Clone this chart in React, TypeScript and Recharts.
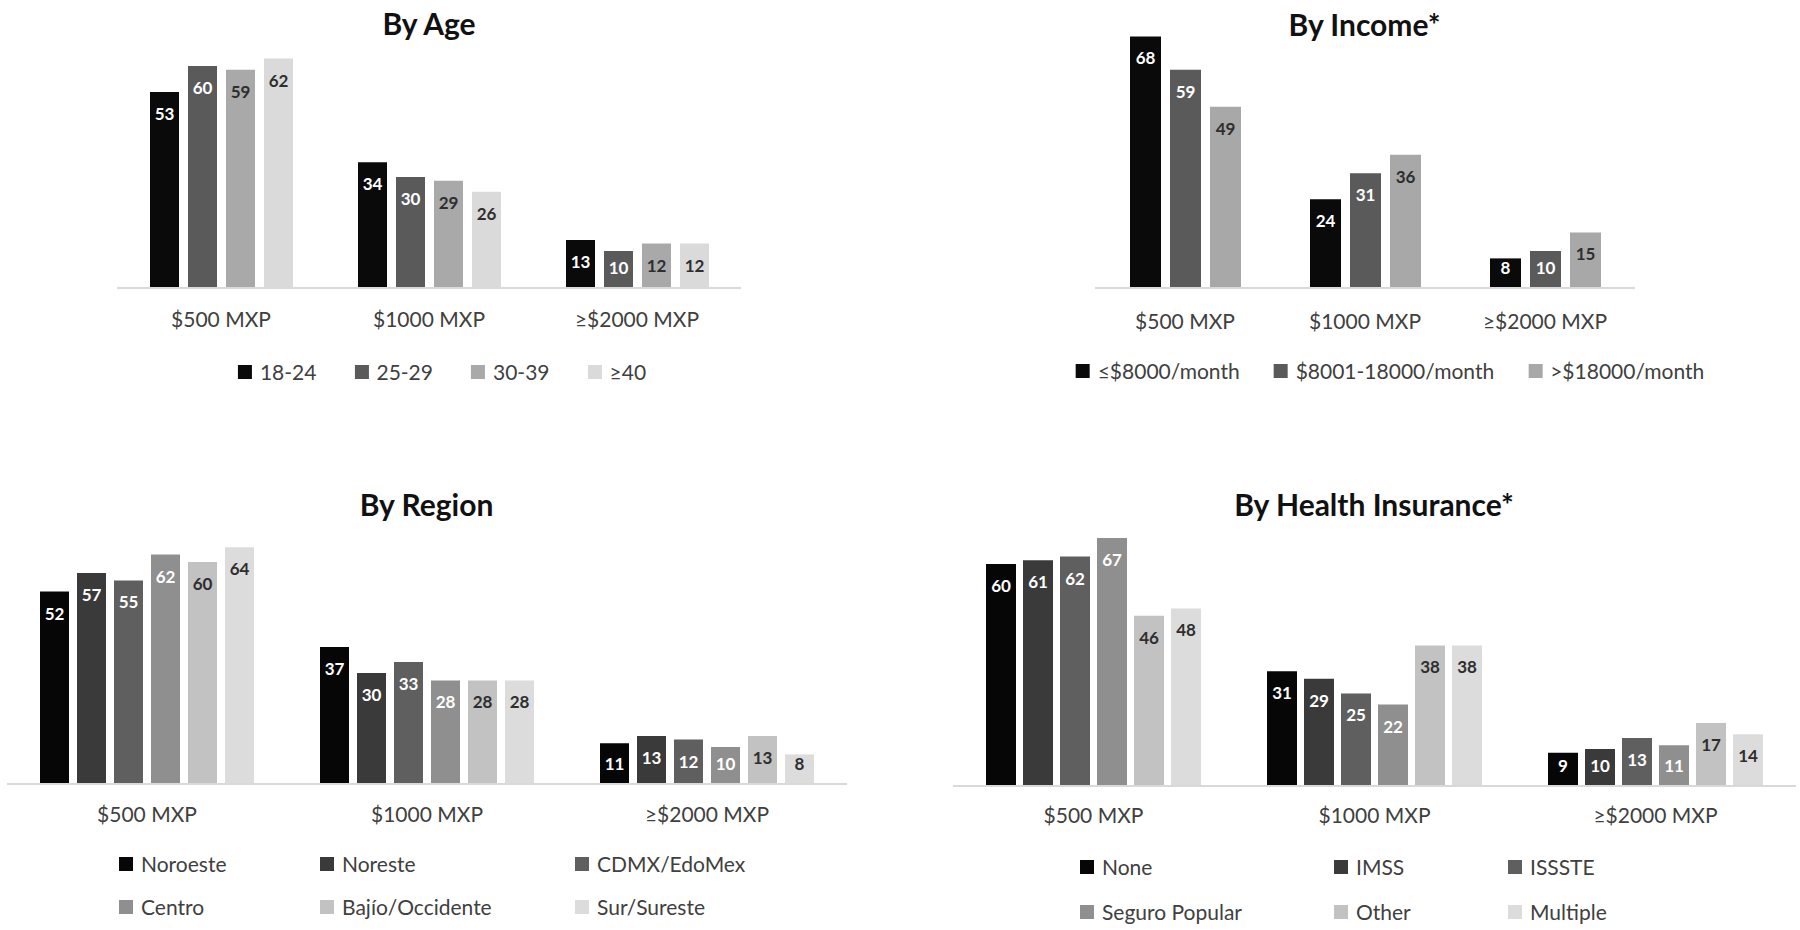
import React from 'react'
import { BarChart, Bar, XAxis, YAxis, LabelList } from 'recharts'

const FONT = 'Lato, "Open Sans", sans-serif'

// shared x categories
const categories = ['$500 MXP', '$1000 MXP', '≥$2000 MXP']

// By Age
const ageGroups = ['18-24', '25-29', '30-39', '≥40']
const ageValues = [
  [53, 34, 13],
  [60, 30, 10],
  [59, 29, 12],
  [62, 26, 12],
]

// By Income
const incomeGroups = ['≤$8000/month', '$8001-18000/month', '>$18000/month']
const incomeValues = [
  [68, 24, 8],
  [59, 31, 10],
  [49, 36, 15],
]

// By Region
const regionGroups = ['Noroeste', 'Noreste', 'CDMX/EdoMex', 'Centro', 'Bajío/Occidente', 'Sur/Sureste']
const regionValues = [
  [52, 37, 11],
  [57, 30, 13],
  [55, 33, 12],
  [62, 28, 10],
  [60, 28, 13],
  [64, 28, 8],
]

// By Health Insurance
const insuranceGroups = ['None', 'IMSS', 'ISSSTE', 'Seguro Popular', 'Other', 'Multiple']
const insuranceValues = [
  [60, 31, 9],
  [61, 29, 10],
  [62, 25, 13],
  [67, 22, 11],
  [46, 38, 17],
  [48, 38, 14],
]

const greys4 = ['#0a0a0a', '#5a5a5a', '#a9a9a9', '#dadada']
const greys3 = ['#0a0a0a', '#5a5a5a', '#a8a8a8']
const greys6 = ['#060606', '#3a3a3a', '#5f5f5f', '#8f8f8f', '#c2c2c2', '#dcdcdc']
const labelColor = (fill: string) => (parseInt(fill.slice(1, 3), 16) > 0x98 ? '#2e2e2e' : '#ffffff')

const PX_PER_UNIT = 3.7
const Y_MAX = 70

function buildRows(values: number[][]) {
  return categories.map((c, i) => {
    const row: Record<string, string | number> = { category: c }
    values.forEach((v, s) => {
      row['s' + s] = v[i]
    })
    return row
  })
}

const makeLabel = (color: string) => (props: any) => {
  const vb = props.viewBox ?? props
  const { x, y, width, height } = vb
  const cy = Math.min(y + 22, y + height - 20)
  return (
    <text
      x={x + width / 2}
      y={cy}
      dy="0.35em"
      textAnchor="middle"
      fill={color}
      fontSize={17}
      fontWeight={700}
      fontFamily={FONT}
    >
      {props.value}
    </text>
  )
}

interface PanelProps {
  title: string
  titleY: number
  groups: string[]
  values: number[][]
  colors: string[]
  plotLeft: number
  plotRight: number
  baseline: number
  barSize: number
  barGap: number
  tickMargin: number
}

function Panel(p: PanelProps) {
  const data = buildRows(p.values)
  const plotH = Y_MAX * PX_PER_UNIT
  const pad = 10
  const axisH = 60
  const width = p.plotRight - p.plotLeft + pad + 4
  const height = plotH + pad + axisH
  const center = (p.plotLeft + p.plotRight) / 2
  return (
    <>
      <div
        style={{
          position: 'absolute',
          left: center - 300,
          width: 600,
          top: p.titleY,
          textAlign: 'center',
          fontFamily: FONT,
          fontWeight: 700,
          fontSize: 30,
          lineHeight: '30px',
          color: '#111',
        }}
      >
        {p.title}
      </div>
      <div style={{ position: 'absolute', left: p.plotLeft - pad, top: p.baseline - plotH - pad }}>
        <BarChart
          width={width}
          height={height}
          data={data}
          margin={{ top: pad, right: 4, bottom: 0, left: pad }}
          barSize={p.barSize}
          barGap={p.barGap}
        >
          <XAxis
            dataKey="category"
            interval={0}
            height={axisH}
            tickLine={false}
            tickMargin={p.tickMargin}
            axisLine={{ stroke: '#d9d9d9', strokeWidth: 2 }}
            tick={{ fill: '#404040', fontSize: 21, fontFamily: FONT }}
          />
          <YAxis hide domain={[0, Y_MAX]} />
          {p.groups.map((g, s) => (
            <Bar key={g} dataKey={'s' + s} name={g} fill={p.colors[s]} isAnimationActive={false}>
              <LabelList dataKey={'s' + s} content={makeLabel(labelColor(p.colors[s]))} />
            </Bar>
          ))}
        </BarChart>
      </div>
    </>
  )
}

function LegendItem({ name, color }: { name: string; color: string }) {
  return (
    <div style={{ display: 'flex', alignItems: 'center', whiteSpace: 'nowrap' }}>
      <span style={{ width: 14, height: 14, background: color, marginRight: 8, display: 'inline-block' }} />
      <span>{name}</span>
    </div>
  )
}

const legendText: React.CSSProperties = {
  position: 'absolute',
  fontFamily: FONT,
  fontSize: 21,
  lineHeight: '22px',
  color: '#404040',
}

function RowLegend({ groups, colors, centerX, centerY, gap }: { groups: string[]; colors: string[]; centerX: number; centerY: number; gap: number }) {
  return (
    <div
      style={{
        ...legendText,
        left: centerX,
        top: centerY - 11,
        transform: 'translateX(-50%)',
        display: 'flex',
        gap,
      }}
    >
      {groups.map((g, i) => (
        <LegendItem key={g} name={g} color={colors[i]} />
      ))}
    </div>
  )
}

function GridLegend({ groups, colors, left, rowYs, cols }: { groups: string[]; colors: string[]; left: number; rowYs: number[]; cols: number[] }) {
  return (
    <>
      {groups.map((g, i) => (
        <div key={g} style={{ ...legendText, left: left + cols[i % 3], top: rowYs[Math.floor(i / 3)] - 11 }}>
          <LegendItem name={g} color={colors[i]} />
        </div>
      ))}
    </>
  )
}

export default function App() {
  return (
    <div
      style={{
        position: 'absolute',
        left: 0,
        top: 0,
        width: 1800,
        height: 930,
        overflow: 'hidden',
        background: '#fff',
      }}
    >
      <Panel
        title="By Age"
        titleY={8}
        groups={ageGroups}
        values={ageValues}
        colors={greys4}
        plotLeft={117}
        plotRight={741}
        baseline={288}
        barSize={29}
        barGap={9}
        tickMargin={18}
      />
      <RowLegend groups={ageGroups} colors={greys4} centerX={442} centerY={372} gap={38} />

      <Panel
        title="By Income*"
        titleY={9}
        groups={incomeGroups}
        values={incomeValues}
        colors={greys3}
        plotLeft={1094.5}
        plotRight={1634.5}
        baseline={287.5}
        barSize={31}
        barGap={9}
        tickMargin={20}
      />
      <RowLegend groups={incomeGroups} colors={greys3} centerX={1390} centerY={371} gap={34} />

      <Panel
        title="By Region"
        titleY={489}
        groups={regionGroups}
        values={regionValues}
        colors={greys6}
        plotLeft={6.5}
        plotRight={846.5}
        baseline={784}
        barSize={29}
        barGap={8}
        tickMargin={17}
      />
      <GridLegend groups={regionGroups} colors={greys6} left={119} rowYs={[864, 907]} cols={[0, 201, 456]} />

      <Panel
        title="By Health Insurance*"
        titleY={489}
        groups={insuranceGroups}
        values={insuranceValues}
        colors={greys6}
        plotLeft={952.5}
        plotRight={1795.5}
        baseline={785.5}
        barSize={30}
        barGap={7}
        tickMargin={16}
      />
      <GridLegend groups={insuranceGroups} colors={greys6} left={1080} rowYs={[867, 912]} cols={[0, 254, 428]} />
    </div>
  )
}
